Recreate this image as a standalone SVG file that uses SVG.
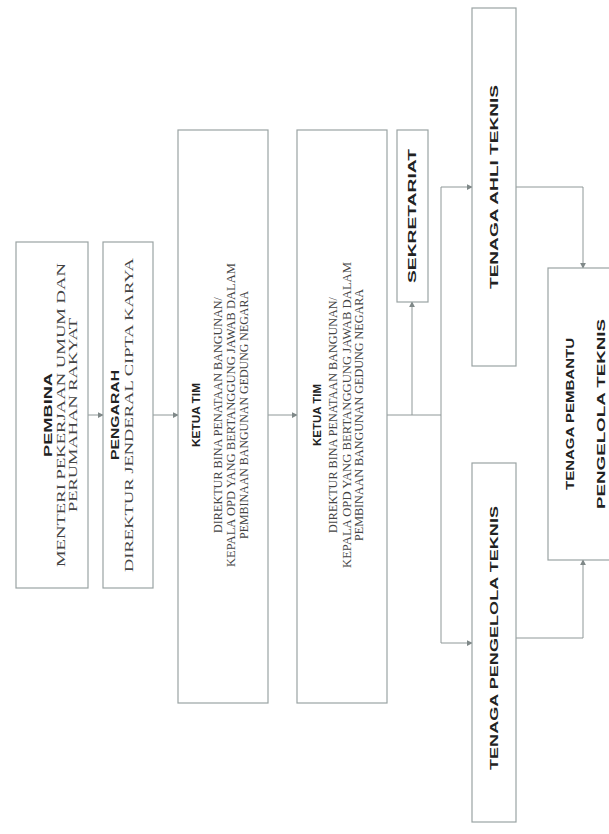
<svg xmlns="http://www.w3.org/2000/svg" width="609" height="834" viewBox="0 0 609 834">
<style>
.box{fill:#ffffff;stroke:#9aa3a3;stroke-width:1.2}
.t{font-family:"Liberation Serif",serif;font-size:11.5px;fill:#444;text-anchor:middle;dominant-baseline:central}
.b{font-family:"Liberation Sans",sans-serif;font-size:10.5px;font-weight:bold;fill:#222;text-anchor:middle;dominant-baseline:central}
.c{fill:none;stroke:#8f9898;stroke-width:1}
</style>
<defs>
<marker id="ar" viewBox="0 0 8 8" refX="7" refY="4" markerWidth="6" markerHeight="6" orient="auto" markerUnits="userSpaceOnUse">
<path d="M0,0 L8,4 L0,8 z" fill="#7f8888"/>
</marker>
</defs>
<rect width="609" height="834" fill="#ffffff"/>
<g id="connectors">
<path class="c" d="M88,415 H103" marker-end="url(#ar)"/>
<path class="c" d="M153,415 H178" marker-end="url(#ar)"/>
<path class="c" d="M268,415 H297" marker-end="url(#ar)"/>
<path class="c" d="M387,415 H441"/>
<path class="c" d="M412,415 V302" marker-end="url(#ar)"/>
<path class="c" d="M441,187 V643"/>
<path class="c" d="M441,187 H472" marker-end="url(#ar)"/>
<path class="c" d="M441,643 H472" marker-end="url(#ar)"/>
<path class="c" d="M516,187 H583 V268" marker-end="url(#ar)"/>
<path class="c" d="M516,638 H583 V560" marker-end="url(#ar)"/>
</g>
<g id="pembina">
<rect class="box" x="16" y="242" width="72" height="346"/>
<text class="b" transform="translate(48,415) rotate(-90)" textLength="84" lengthAdjust="spacingAndGlyphs">PEMBINA</text>
<text class="t" transform="translate(61,415) rotate(-90)" textLength="304" lengthAdjust="spacingAndGlyphs">MENTERI PEKERJAAN UMUM DAN</text>
<text class="t" transform="translate(73,415) rotate(-90)" textLength="194" lengthAdjust="spacingAndGlyphs">PERUMAHAN RAKYAT</text>
</g>
<g id="pengarah">
<rect class="box" x="103" y="242" width="50" height="346"/>
<text class="b" transform="translate(115,415) rotate(-90)" textLength="90" lengthAdjust="spacingAndGlyphs">PENGARAH</text>
<text class="t" transform="translate(129,415) rotate(-90)" textLength="314" lengthAdjust="spacingAndGlyphs">DIREKTUR JENDERAL CIPTA KARYA</text>
</g>
<g id="ketua1">
<rect class="box" x="178" y="130" width="90" height="573"/>
<text class="b" transform="translate(196,415) rotate(-90)" textLength="64" lengthAdjust="spacingAndGlyphs">KETUA TIM</text>
<text class="t" transform="translate(218,415) rotate(-90)" textLength="236" lengthAdjust="spacingAndGlyphs">DIREKTUR BINA PENATAAN BANGUNAN/</text>
<text class="t" transform="translate(231,415) rotate(-90)" textLength="304" lengthAdjust="spacingAndGlyphs">KEPALA OPD YANG BERTANGGUNG JAWAB DALAM</text>
<text class="t" transform="translate(244,415) rotate(-90)" textLength="248" lengthAdjust="spacingAndGlyphs">PEMBINAAN BANGUNAN GEDUNG NEGARA</text>
</g>
<g id="ketua2">
<rect class="box" x="297" y="130" width="90" height="573"/>
<text class="b" transform="translate(317,415) rotate(-90)" textLength="62" lengthAdjust="spacingAndGlyphs">KETUA TIM</text>
<text class="t" transform="translate(333,415) rotate(-90)" textLength="236" lengthAdjust="spacingAndGlyphs">DIREKTUR BINA PENATAAN BANGUNAN/</text>
<text class="t" transform="translate(347,415) rotate(-90)" textLength="306" lengthAdjust="spacingAndGlyphs">KEPALA OPD YANG BERTANGGUNG JAWAB DALAM</text>
<text class="t" transform="translate(359,415) rotate(-90)" textLength="252" lengthAdjust="spacingAndGlyphs">PEMBINAAN BANGUNAN GEDUNG NEGARA</text>
</g>
<g id="sekretariat">
<rect class="box" x="397" y="130" width="31" height="172"/>
<text class="b" transform="translate(412,216) rotate(-90)" textLength="134" lengthAdjust="spacingAndGlyphs">SEKRETARIAT</text>
</g>
<g id="ahli">
<rect class="box" x="472" y="8" width="44" height="358"/>
<text class="b" transform="translate(494,187) rotate(-90)" textLength="204" lengthAdjust="spacingAndGlyphs">TENAGA AHLI TEKNIS</text>
</g>
<g id="pengelola">
<rect class="box" x="472" y="463" width="44" height="359"/>
<text class="b" transform="translate(494,638) rotate(-90)" textLength="264" lengthAdjust="spacingAndGlyphs">TENAGA PENGELOLA TEKNIS</text>
</g>
<g id="pembantu">
<rect class="box" x="548" y="268" width="72" height="292"/>
<text class="b" transform="translate(570,414) rotate(-90)" textLength="152" lengthAdjust="spacingAndGlyphs">TENAGA PEMBANTU</text>
<text class="b" transform="translate(601,414) rotate(-90)" textLength="190" lengthAdjust="spacingAndGlyphs">PENGELOLA TEKNIS</text>
</g>
</svg>
